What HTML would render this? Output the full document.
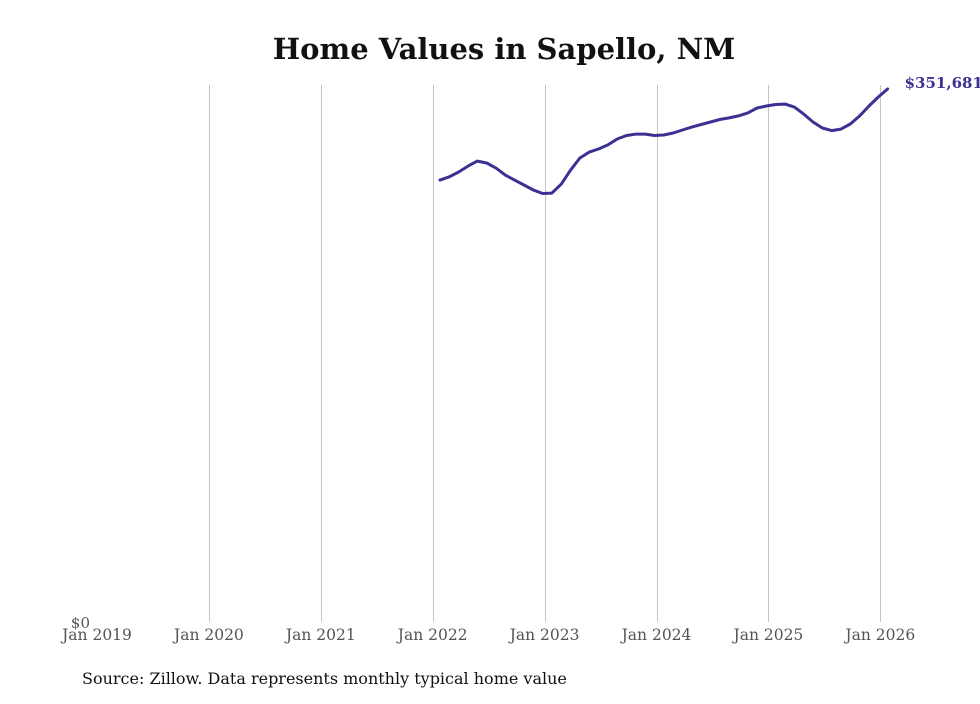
<!DOCTYPE html>
<html><head><meta charset="utf-8"><style>
body{margin:0;background:#fff;}
svg text{font-family:"DejaVu Serif","Liberation Serif",serif;}
</style></head><body>
<svg width="980" height="699" viewBox="0 0 980 699">
<text x="504" y="59" text-anchor="middle" font-size="29" font-weight="bold" fill="#111">Home Values in Sapello, NM</text>
<g id="grid"></g>
<g id="xticks"></g>
<text x="90" y="628" text-anchor="end" font-size="15" fill="#555">$0</text>
<path id="line" fill="none" stroke="#3b3192" stroke-width="3" stroke-linejoin="round" stroke-linecap="round"/>
<text id="endlabel" font-size="15" font-weight="bold" fill="#3b3192"></text>
<text x="82" y="684" font-size="16" fill="#111">Source: Zillow. Data represents monthly typical home value</text>
</svg>
<script>
const tickLabels=["Jan 2019","Jan 2020","Jan 2021","Jan 2022","Jan 2023","Jan 2024","Jan 2025","Jan 2026"];
const startMonth=37; // Feb 2022, months since Jan 2019
const values=[291900,294100,297200,301100,304400,303100,299800,295200,291900,288700,285400,283100,
283400,289300,298500,306400,310300,312300,315000,318900,321200,322100,322100,321200,
321500,322800,324800,326700,328400,330000,331700,332700,334000,336000,339200,340500,
341500,341800,339800,335200,330000,326100,324400,325400,328700,334000,340500,346400,351681];
const x=m=>97+m*111.9/12;
const y=v=>625-v*536/351681;
const ns="http://www.w3.org/2000/svg";
const grid=document.getElementById('grid'),xt=document.getElementById('xticks');
tickLabels.forEach((t,i)=>{
  const gx=Math.round(x(i*12))+0.5;
  if(i>0){const l=document.createElementNS(ns,'line');
    l.setAttribute('x1',gx);l.setAttribute('x2',gx);l.setAttribute('y1',85);l.setAttribute('y2',622);
    l.setAttribute('stroke','#c4c4c4');l.setAttribute('stroke-width','1');
    
    
    grid.appendChild(l);}
  const tx=document.createElementNS(ns,'text');
  tx.setAttribute('x',x(i*12));tx.setAttribute('y',640);tx.setAttribute('text-anchor','middle');
  tx.setAttribute('font-size','15.5');tx.setAttribute('fill','#555');tx.textContent=t;
  
  
  xt.appendChild(tx);
});
let d='';
values.forEach((v,i)=>{d+=(i?'L':'M')+(x(startMonth+i)-2).toFixed(1)+','+y(v).toFixed(1);});
document.getElementById('line').setAttribute('d',d);
const last=values[values.length-1];
const el=document.getElementById('endlabel');
el.setAttribute('x',x(startMonth+values.length-1)+15);
el.setAttribute('y',y(last)-1);
el.textContent='$'+last.toLocaleString('en-US');
</script>
</body></html>
